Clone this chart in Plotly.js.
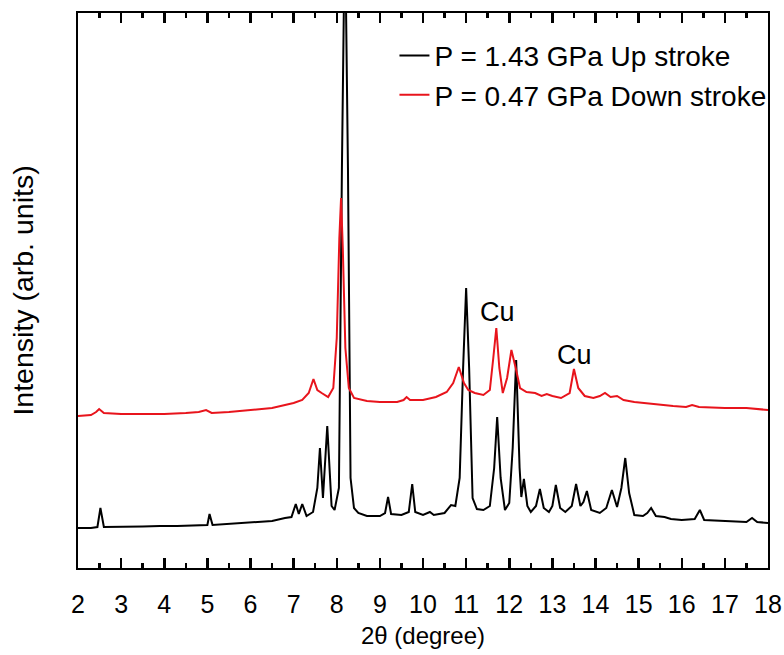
<!DOCTYPE html>
<html>
<head>
<meta charset="utf-8">
<script src="https://cdn.plot.ly/plotly-3.0.1.min.js"></script>
<style>html,body{margin:0;padding:0;background:#fff;}#chart{width:784px;height:655px;}</style>
</head>
<body>
<div id="chart"></div>
<script>
// 2θ (degree) and intensity (arb. units)
const upX = [2.0,2.3,2.45,2.52,2.6,3.0,3.5,3.9,4.3,5.0,5.05,5.12,5.5,6.0,6.5,6.8,6.95,7.05,7.12,7.2,7.3,7.45,7.55,7.61,7.68,7.78,7.88,7.95,8.05,8.12,8.19,8.26,8.32,8.4,8.5,8.7,9.0,9.12,9.19,9.26,9.5,9.67,9.75,9.82,10.0,10.16,10.25,10.5,10.6,10.65,10.75,10.85,10.93,11.0,11.07,11.15,11.25,11.4,11.55,11.65,11.72,11.8,11.9,12.0,12.08,12.16,12.24,12.28,12.34,12.42,12.5,12.62,12.71,12.8,12.92,13.0,13.08,13.18,13.3,13.45,13.55,13.65,13.72,13.8,13.9,14.1,14.25,14.38,14.5,14.6,14.69,14.78,14.9,15.1,15.2,15.29,15.4,15.6,15.75,16.0,16.3,16.42,16.52,17.0,17.5,17.63,17.75,18.0];
const upY = [40,40,41,60,41,41,41.5,42,42,43,54,43,44,45,47,50,51,64,54,64,52,56,80,120,70,142,62,58,80,400,650,400,90,60,55,52,52,55,71,54,53,56,84,56,53,56,53,55,60,63,62,90,200,280,200,70,59,58,62,100,151,90,58,65,120,208,100,71,89,62,56,62,79,60,56,62,83,60,56,62,84,62,66,77,58,55,60,78,61,80,110,75,53,52,55,60,52,51,49,48,49,58,48,47,46,50,46,45];

const downX = [2.0,2.3,2.42,2.49,2.6,3.0,3.5,4.0,4.5,4.8,4.97,5.1,5.5,6.0,6.5,6.8,7.0,7.2,7.35,7.46,7.55,7.65,7.8,7.92,8.0,8.06,8.1,8.14,8.2,8.28,8.4,8.7,9.0,9.4,9.55,9.62,9.7,10.0,10.3,10.55,10.7,10.83,10.95,11.05,11.2,11.4,11.55,11.63,11.7,11.77,11.85,11.95,12.05,12.15,12.25,12.4,12.6,12.75,12.87,13.0,13.2,13.4,13.5,13.6,13.75,13.95,14.1,14.22,14.35,14.5,14.65,14.9,15.3,15.8,16.1,16.24,16.4,17.0,17.5,18.0];
const downY = [152,153,156,159,155,154,154,154,155,156,158,155,156,158,160,163,165,168,175,189,178,175,171,180,230,330,370,320,220,180,170,167,166,166,168,171,168,168,171,176,185,201,185,178,175,173,178,210,240,200,175,190,218,200,180,176,175,172,174,172,170,175,199,180,172,170,172,175,171,172,168,166,164,162,161,163,161,160,160,158];

const seriesNames = ["P = 1.43 GPa Up stroke", "P = 0.47 GPa Down stroke"];
const peakLabels = ["Cu", "Cu"];
const peakLabelX = [11.72, 13.52];
const peakLabelY = [256, 213];
const majorTicks = [2,3,4,5,6,7,8,9,10,11,12,13,14,15,16,17,18];

const FONT = "Liberation Sans, Arial, sans-serif";

const data = [
  {x: upX, y: upY, type: "scatter", mode: "lines", name: seriesNames[0],
   line: {color: "#000000", width: 2}, legendgroup: "a"},
  {x: downX, y: downY, type: "scatter", mode: "lines", name: seriesNames[1],
   line: {color: "#e8141c", width: 2}, legendgroup: "b"}
];

const layout = {
  width: 784, height: 655,
  margin: {l: 78, r: 16, t: 13, b: 87},
  paper_bgcolor: "#ffffff", plot_bgcolor: "#ffffff",
  font: {family: FONT, color: "#000000", size: 24},
  showlegend: true,
  legend: {x: 1.005, xanchor: "right", y: 0.968, yanchor: "top",
           bgcolor: "rgba(0,0,0,0)", borderwidth: 0,
           font: {size: 28, family: FONT}, traceorder: "grouped", tracegroupgap: 0},
  xaxis: {
    range: [2, 18], tickmode: "array", tickvals: majorTicks, ticktext: majorTicks.map(String),
    ticks: "inside", ticklen: 10, tickwidth: 2.5, tickcolor: "#000000",
    minor: {tickmode: "linear", tick0: 2.5, dtick: 1, ticks: "inside", ticklen: 5, tickwidth: 2.5, tickcolor: "#000000", showgrid: false},
    showline: true, linecolor: "#000000", linewidth: 2, mirror: "allticks",
    showgrid: false, zeroline: false,
    tickfont: {size: 25, family: FONT}, ticklabelstandoff: 13,
    title: {text: "2θ (degree)", font: {size: 24, family: FONT}, standoff: 10}
  },
  yaxis: {
    range: [0, 555], showticklabels: false, ticks: "",
    showline: true, linecolor: "#000000", linewidth: 2, mirror: true,
    showgrid: false, zeroline: false,
    title: {text: "Intensity (arb. units)", font: {size: 28.5, family: FONT}, standoff: 34}
  },
  annotations: peakLabels.map((t, i) => ({
    x: peakLabelX[i], y: peakLabelY[i], xref: "x", yref: "y",
    text: t, showarrow: false, font: {size: 27, family: FONT, color: "#000000"}
  }))
};

Plotly.newPlot("chart", data, layout, {displayModeBar: false, staticPlot: true});
</script>
</body>
</html>
